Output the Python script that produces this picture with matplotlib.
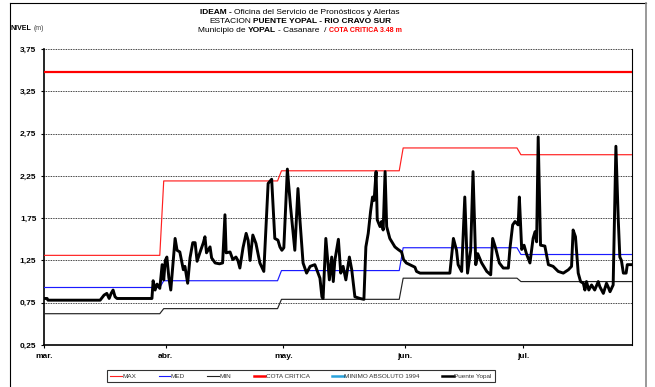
import matplotlib
matplotlib.use("Agg")
import matplotlib.pyplot as plt
from matplotlib.lines import Line2D
from matplotlib.ticker import FuncFormatter

plt.rcParams['font.family'] = ['Liberation Sans', 'DejaVu Sans']

# dias contados desde el 1 de marzo
inicio_mes = [0, 31, 61, 92, 122]
meses = ['mar.', 'abr.', 'may.', 'jun.', 'jul.']
dia_final = 149.8

# estadisticos mensuales historicos (m)
nivel_max = [1.31, 2.19, 2.31, 2.58, 2.50]
nivel_med = [0.93, 1.01, 1.13, 1.40, 1.32]
nivel_min = [0.62, 0.68, 0.79, 1.04, 1.00]
cota_critica = 3.48

# lecturas de la estacion Puente Yopal
dias_yopal = [
    0, 0.8, 1.0, 14.3, 15.3, 16.0, 16.6, 17.1, 17.6, 18.1, 18.6, 27.5,
    27.8, 28.3, 28.8, 29.5, 30.1, 30.5, 30.9, 31.3, 31.8, 32.3, 33.4, 33.9,
    34.6, 35.5, 35.9, 36.6, 37.2, 37.9, 38.5, 39.0, 39.7, 40.6, 41.0, 41.4,
    42.3, 42.7, 43.6, 44.7, 45.5, 46.1, 46.4, 47.4, 48.1, 48.9, 49.4, 49.9,
    50.7, 51.5, 52.0, 52.5, 53.2, 54.0, 55.0, 56.0, 57.1, 58.0, 58.3, 58.8,
    59.6, 60.1, 60.6, 61.1, 62.0, 62.8, 63.9, 64.7, 65.2, 66.0, 66.9, 67.8,
    69.0, 69.5, 70.3, 70.8, 71.1, 71.8, 72.7, 73.3, 73.7, 74.1, 75.0, 75.6,
    76.2, 76.9, 77.8, 78.4, 79.2, 80.5, 81.5, 82.0, 82.6, 83.2, 83.7, 84.1,
    84.6, 84.9, 85.6, 86.0, 86.4, 86.9, 87.3, 88.1, 89.4, 90.2, 91.1, 91.6,
    92.3, 93.2, 94.5, 94.9, 95.8, 103.4, 104.3, 105.1, 105.5, 106.4, 107.2,
    107.9, 108.7, 109.3, 110.0, 110.5, 111.5, 112.8, 113.8, 114.3, 115.1,
    116.0, 117.0, 118.3, 118.7, 119.4, 120.0, 120.8, 121.1, 121.7, 122.3,
    122.9, 123.8, 124.6, 125.1, 125.5, 125.9, 126.5, 127.6, 128.5, 129.7,
    131.0, 132.3, 133.6, 134.4, 134.8, 135.4, 136.1, 136.7, 137.4, 137.8,
    138.2, 138.8, 139.5, 140.3, 141.2, 141.6, 142.5, 143.3, 143.7, 144.2,
    145.0, 145.7, 146.3, 146.7, 147.1, 147.6, 148.3, 148.6, 149.8,
]
nivel_yopal = [
    0.80, 0.80, 0.78, 0.78, 0.84, 0.86, 0.80, 0.86, 0.90, 0.82, 0.80, 0.80,
    1.01, 0.90, 0.97, 0.92, 1.20, 1.02, 1.25, 1.29, 1.05, 0.90, 1.51, 1.37,
    1.35, 1.14, 1.18, 0.98, 1.28, 1.46, 1.46, 1.24, 1.34, 1.46, 1.53, 1.34,
    1.41, 1.28, 1.22, 1.21, 1.22, 1.79, 1.34, 1.35, 1.26, 1.29, 1.25, 1.16,
    1.40, 1.57, 1.49, 1.25, 1.55, 1.45, 1.22, 1.12, 2.16, 2.21, 1.95, 1.51,
    1.49, 1.41, 1.37, 1.40, 2.33, 1.89, 1.37, 2.10, 1.73, 1.22, 1.10, 1.18,
    1.20, 1.14, 1.04, 0.82, 0.80, 1.51, 1.02, 1.29, 1.00, 1.25, 1.50, 1.10,
    1.18, 1.02, 1.29, 1.14, 0.82, 0.80, 0.79, 1.41, 1.57, 1.83, 2.00, 1.96,
    2.30, 1.73, 1.65, 1.71, 1.61, 2.30, 1.65, 1.51, 1.41, 1.38, 1.35, 1.26,
    1.22, 1.20, 1.17, 1.12, 1.10, 1.10, 1.51, 1.37, 1.20, 1.12, 2.00,
    1.10, 1.37, 2.30, 1.20, 1.33, 1.22, 1.12, 1.08, 1.51, 1.39,
    1.22, 1.16, 1.16, 1.39, 1.67, 1.71, 1.67, 2.00, 1.38, 1.43,
    1.33, 1.22, 1.51, 1.59, 1.47, 2.71, 1.43, 1.42, 1.20, 1.18,
    1.12, 1.10, 1.14, 1.18, 1.61, 1.53, 1.10, 1.00, 0.98, 0.90,
    1.00, 0.90, 0.96, 0.90, 1.00, 0.94, 0.86, 0.98, 0.94, 0.88,
    0.96, 2.60, 1.73, 1.29, 1.25, 1.10, 1.10, 1.20, 1.20,
]


def escalon(valores):
    # linea mensual con cambio de nivel al final de cada mes
    xs, ys = [inicio_mes[0]], [valores[0]]
    for i in range(1, len(valores)):
        xs += [inicio_mes[i] - 1.5, inicio_mes[i] - 0.5]
        ys += [valores[i - 1], valores[i]]
    xs.append(dia_final)
    ys.append(valores[-1])
    return xs, ys


fig = plt.figure(figsize=(6.55, 3.87), dpi=100)
W, H = 655.0, 387.0
ax = fig.add_axes([44 / W, 1 - 345 / H, 588 / W, 296 / H])

ax.plot(*escalon(nivel_max), color='#ff2020', lw=0.85, zorder=3)
ax.plot(*escalon(nivel_med), color='#1a1aff', lw=0.85, zorder=3)
ax.plot(*escalon(nivel_min), color='#222222', lw=0.85, zorder=3)
ax.axhline(cota_critica, color='#ff0000', lw=1.6, zorder=3)
ax.plot(dias_yopal, nivel_yopal, color='black', lw=2.1, zorder=4)

ax.set_xlim(0, dia_final)
ax.set_ylim(0.25, 3.75)
ax.set_yticks([0.25 + 0.5 * i for i in range(8)])
ax.yaxis.set_major_formatter(FuncFormatter(lambda v, p: f"{v:.2f}".replace('.', ',')))
ax.set_xticks(inicio_mes)
ax.set_xticklabels(meses)
for lbl in ax.get_xticklabels() + ax.get_yticklabels():
    lbl.set_fontweight('bold')
    lbl.set_fontsize(6)
ax.tick_params(axis='both', direction='out', length=2.5, width=0.8, pad=3)

ax.yaxis.grid(True, color='black', linestyle=(0, (1, 1)), lw=0.6)
ax.set_axisbelow(True)
ax.spines['top'].set_visible(False)
ax.spines['right'].set_linewidth(0.8)
ax.spines['left'].set_linewidth(1.2)
ax.spines['bottom'].set_linewidth(1.2)

# leyenda
handles = [
    Line2D([], [], color='#ff2020', lw=0.8),
    Line2D([], [], color='#1a1aff', lw=0.8),
    Line2D([], [], color='#222222', lw=0.8),
    Line2D([], [], color='#ff0000', lw=1.8),
    Line2D([], [], color='#29a3dc', lw=1.8),
    Line2D([], [], color='black', lw=1.8),
]
nombres = ['MAX', 'MED', 'MIN', 'COTA CRITICA', 'MINIMO ABSOLUTO 1994', 'Puente Yopal']
leg = fig.legend(handles, nombres, loc='center', bbox_to_anchor=(301 / W, 1 - 376 / H),
                 ncol=6, fontsize=4.6, frameon=True, fancybox=False, edgecolor='black',
                 handlelength=1.8, handletextpad=0.1, columnspacing=3.5,
                 borderpad=0.55, borderaxespad=0)
leg.get_frame().set_linewidth(0.8)
for t in leg.get_texts():
    t.set_color('#333333')

# marco exterior
fig.add_artist(Line2D([10 / W, 10 / W], [0, 1 - 3 / H], color='black', lw=0.8))
fig.add_artist(Line2D([10 / W, 646 / W], [1 - 3 / H, 1 - 3 / H], color='black', lw=0.8))
fig.add_artist(Line2D([646 / W, 646 / W], [0, 1 - 3 / H], color='#888888', lw=1.2))

# titulo con partes en negrita
renderer = fig.canvas.get_renderer()


def linea_rica(y, partes, x0, centrado=True):
    textos, anchos, huecos = [], [], []
    for s, gap, props in partes:
        t = fig.text(0, y, s, va='baseline', **props)
        textos.append(t)
        anchos.append(t.get_window_extent(renderer).width)
        if gap:
            a = fig.text(0, 0, 'x x', **props)
            b = fig.text(0, 0, 'xx', **props)
            huecos.append(a.get_window_extent(renderer).width - b.get_window_extent(renderer).width)
            a.remove()
            b.remove()
        else:
            huecos.append(0)
    total = sum(anchos) + sum(huecos)
    x = x0 - total / 2 if centrado else x0
    for t, w, g in zip(textos, anchos, huecos):
        x += g
        t.set_x(x / W)
        x += w


base = dict(fontsize=6, color='black')
negrita = dict(fontsize=6, color='black', fontweight='bold')
linea_rica(1 - 14.3 / H, [('IDEAM -', False, negrita),
                          ('Oficina del Servicio de Pronósticos y Alertas', True, base)], 300)
linea_rica(1 - 22.7 / H, [('ESTACION', False, base),
                          ('PUENTE YOPAL - RIO CRAVO SUR', True, negrita)], 300)
linea_rica(1 - 31.5 / H, [('Municipio de', False, base),
                          ('YOPAL', True, negrita),
                          ('- Casanare  /', True, base),
                          ('COTA CRITICA 3.48 m', True, dict(fontsize=5, color='#ff0000', fontweight='bold'))], 300)

linea_rica(1 - 30.5 / H, [('NIVEL', False, dict(fontsize=5, fontweight='bold')),
                          ('(m)', True, dict(fontsize=5, color='#444444'))], 10.5, centrado=False)

fig.savefig('out.png', dpi=100)
